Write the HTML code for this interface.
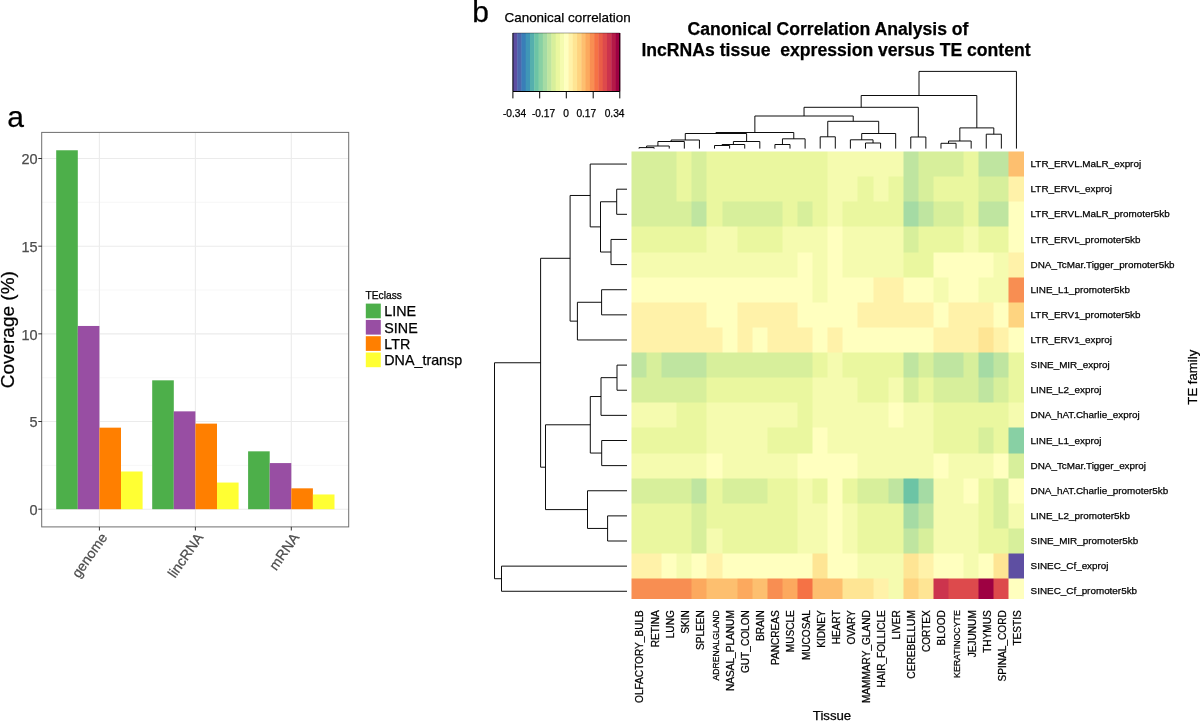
<!DOCTYPE html><html><head><meta charset="utf-8"><style>html,body{margin:0;padding:0;background:#fff;}svg{display:block;will-change:transform;}text{font-family:"Liberation Sans",sans-serif;stroke-width:0.25px;}</style></head><body>
<svg width="1200" height="721" viewBox="0 0 1200 721">
<rect width="1200" height="721" fill="#fff"/>
<line x1="42.0" x2="348.7" y1="465.36" y2="465.36" stroke="#F2F2F2" stroke-width="0.6"/>
<line x1="42.0" x2="348.7" y1="377.69" y2="377.69" stroke="#F2F2F2" stroke-width="0.6"/>
<line x1="42.0" x2="348.7" y1="290.01" y2="290.01" stroke="#F2F2F2" stroke-width="0.6"/>
<line x1="42.0" x2="348.7" y1="202.34" y2="202.34" stroke="#F2F2F2" stroke-width="0.6"/>
<line x1="42.0" x2="348.7" y1="509.20" y2="509.20" stroke="#EBEBEB" stroke-width="1.1"/>
<line x1="42.0" x2="348.7" y1="421.52" y2="421.52" stroke="#EBEBEB" stroke-width="1.1"/>
<line x1="42.0" x2="348.7" y1="333.85" y2="333.85" stroke="#EBEBEB" stroke-width="1.1"/>
<line x1="42.0" x2="348.7" y1="246.18" y2="246.18" stroke="#EBEBEB" stroke-width="1.1"/>
<line x1="42.0" x2="348.7" y1="158.50" y2="158.50" stroke="#EBEBEB" stroke-width="1.1"/>
<line x1="99.4" x2="99.4" y1="132.5" y2="526.9" stroke="#EBEBEB" stroke-width="1.1"/>
<line x1="195.4" x2="195.4" y1="132.5" y2="526.9" stroke="#EBEBEB" stroke-width="1.1"/>
<line x1="291.3" x2="291.3" y1="132.5" y2="526.9" stroke="#EBEBEB" stroke-width="1.1"/>
<rect x="56.20" y="150.26" width="21.6" height="358.94" fill="#4DAF4A"/>
<rect x="77.80" y="325.96" width="21.6" height="183.24" fill="#984EA3"/>
<rect x="99.40" y="427.66" width="21.6" height="81.54" fill="#FF7F00"/>
<rect x="121.00" y="471.50" width="21.6" height="37.70" fill="#FFFF33"/>
<rect x="152.20" y="380.32" width="21.6" height="128.88" fill="#4DAF4A"/>
<rect x="173.80" y="411.35" width="21.6" height="97.85" fill="#984EA3"/>
<rect x="195.40" y="423.63" width="21.6" height="85.57" fill="#FF7F00"/>
<rect x="217.00" y="482.55" width="21.6" height="26.65" fill="#FFFF33"/>
<rect x="248.10" y="451.33" width="21.6" height="57.87" fill="#4DAF4A"/>
<rect x="269.70" y="463.08" width="21.6" height="46.12" fill="#984EA3"/>
<rect x="291.30" y="488.33" width="21.6" height="20.87" fill="#FF7F00"/>
<rect x="312.90" y="494.47" width="21.6" height="14.73" fill="#FFFF33"/>
<rect x="41.7" y="132.4" width="307" height="394.5" fill="none" stroke="#6E6E6E" stroke-width="1"/>
<line x1="38.3" x2="42.0" y1="509.20" y2="509.20" stroke="#333" stroke-width="1"/>
<text x="37.7" y="514.90" font-size="14.5" fill="#4D4D4D" stroke="#4D4D4D" text-anchor="end">0</text>
<line x1="38.3" x2="42.0" y1="421.52" y2="421.52" stroke="#333" stroke-width="1"/>
<text x="37.7" y="427.22" font-size="14.5" fill="#4D4D4D" stroke="#4D4D4D" text-anchor="end">5</text>
<line x1="38.3" x2="42.0" y1="333.85" y2="333.85" stroke="#333" stroke-width="1"/>
<text x="37.7" y="339.55" font-size="14.5" fill="#4D4D4D" stroke="#4D4D4D" text-anchor="end">10</text>
<line x1="38.3" x2="42.0" y1="246.18" y2="246.18" stroke="#333" stroke-width="1"/>
<text x="37.7" y="251.88" font-size="14.5" fill="#4D4D4D" stroke="#4D4D4D" text-anchor="end">15</text>
<line x1="38.3" x2="42.0" y1="158.50" y2="158.50" stroke="#333" stroke-width="1"/>
<text x="37.7" y="164.20" font-size="14.5" fill="#4D4D4D" stroke="#4D4D4D" text-anchor="end">20</text>
<line x1="99.4" x2="99.4" y1="526.9" y2="530.5" stroke="#333" stroke-width="1"/>
<line x1="195.4" x2="195.4" y1="526.9" y2="530.5" stroke="#333" stroke-width="1"/>
<line x1="291.3" x2="291.3" y1="526.9" y2="530.5" stroke="#333" stroke-width="1"/>
<text transform="translate(99.4,531.4) rotate(-55)" font-size="14" fill="#4D4D4D" stroke="#4D4D4D" text-anchor="end" dominant-baseline="hanging">genome</text>
<text transform="translate(195.4,531.4) rotate(-55)" font-size="14" fill="#4D4D4D" stroke="#4D4D4D" text-anchor="end" dominant-baseline="hanging">lincRNA</text>
<text transform="translate(291.3,531.4) rotate(-55)" font-size="14" fill="#4D4D4D" stroke="#4D4D4D" text-anchor="end" dominant-baseline="hanging">mRNA</text>
<text transform="translate(14.4,329.7) rotate(-90)" font-size="19" fill="#000" stroke="#000" text-anchor="middle">Coverage (%)</text>
<text x="7.2" y="127.3" font-size="30" fill="#000" stroke="#000">a</text>
<text x="365.6" y="298.8" font-size="10.2" fill="#000" stroke="#000">TEclass</text>
<rect x="365.8" y="303.60" width="15" height="14.7" fill="#4DAF4A"/>
<text x="384.3" y="316.30" font-size="14.3" fill="#000" stroke="#000">LINE</text>
<rect x="365.8" y="319.90" width="15" height="14.7" fill="#984EA3"/>
<text x="384.3" y="332.60" font-size="14.3" fill="#000" stroke="#000">SINE</text>
<rect x="365.8" y="336.20" width="15" height="14.7" fill="#FF7F00"/>
<text x="384.3" y="348.90" font-size="14.3" fill="#000" stroke="#000">LTR</text>
<rect x="365.8" y="352.50" width="15" height="14.7" fill="#FFFF33"/>
<text x="384.3" y="365.20" font-size="14.3" fill="#000" stroke="#000">DNA_transp</text>
<text x="472.3" y="21.9" font-size="30" fill="#000" stroke="#000">b</text>
<rect x="512.90" y="33.0" width="4.68" height="58.5" fill="#5E4FA2"/>
<rect x="517.18" y="33.0" width="4.68" height="58.5" fill="#4C67AD"/>
<rect x="521.45" y="33.0" width="4.68" height="58.5" fill="#397EB8"/>
<rect x="525.73" y="33.0" width="4.68" height="58.5" fill="#3F96B7"/>
<rect x="530.00" y="33.0" width="4.68" height="58.5" fill="#55AFAD"/>
<rect x="534.28" y="33.0" width="4.68" height="58.5" fill="#6CC4A5"/>
<rect x="538.56" y="33.0" width="4.68" height="58.5" fill="#88D0A4"/>
<rect x="542.83" y="33.0" width="4.68" height="58.5" fill="#A5DBA4"/>
<rect x="547.11" y="33.0" width="4.68" height="58.5" fill="#BFE5A0"/>
<rect x="551.38" y="33.0" width="4.68" height="58.5" fill="#D7EF9B"/>
<rect x="555.66" y="33.0" width="4.68" height="58.5" fill="#EAF79F"/>
<rect x="559.94" y="33.0" width="4.68" height="58.5" fill="#F5FBAF"/>
<rect x="564.21" y="33.0" width="4.68" height="58.5" fill="#FFFFBF"/>
<rect x="568.49" y="33.0" width="4.68" height="58.5" fill="#FFF2A9"/>
<rect x="572.76" y="33.0" width="4.68" height="58.5" fill="#FEE594"/>
<rect x="577.04" y="33.0" width="4.68" height="58.5" fill="#FED480"/>
<rect x="581.32" y="33.0" width="4.68" height="58.5" fill="#FDBF6F"/>
<rect x="585.59" y="33.0" width="4.68" height="58.5" fill="#FCA95E"/>
<rect x="589.87" y="33.0" width="4.68" height="58.5" fill="#F88E52"/>
<rect x="594.14" y="33.0" width="4.68" height="58.5" fill="#F57245"/>
<rect x="598.42" y="33.0" width="4.68" height="58.5" fill="#EA5D47"/>
<rect x="602.70" y="33.0" width="4.68" height="58.5" fill="#DD4A4C"/>
<rect x="606.97" y="33.0" width="4.68" height="58.5" fill="#CC344D"/>
<rect x="611.25" y="33.0" width="4.68" height="58.5" fill="#B51A47"/>
<rect x="615.52" y="33.0" width="4.68" height="58.5" fill="#9E0142"/>
<path d="M512.9,33.0V91.5H619.8V33.0" fill="none" stroke="#000" stroke-width="1"/>
<line x1="512.9" x2="619.8" y1="33.0" y2="33.0" stroke="#000" stroke-opacity="0.35" stroke-width="1"/>
<line x1="512.9" x2="512.9" y1="91.5" y2="98.4" stroke="#000" stroke-width="1"/>
<text x="514.6" y="116.6" font-size="10.2" fill="#000" stroke="#000" text-anchor="middle">-0.34</text>
<line x1="539.7" x2="539.7" y1="91.5" y2="98.4" stroke="#000" stroke-width="1"/>
<text x="543.5" y="116.6" font-size="10.2" fill="#000" stroke="#000" text-anchor="middle">-0.17</text>
<line x1="566.3" x2="566.3" y1="91.5" y2="98.4" stroke="#000" stroke-width="1"/>
<text x="566.0" y="116.6" font-size="10.2" fill="#000" stroke="#000" text-anchor="middle">0</text>
<line x1="593.2" x2="593.2" y1="91.5" y2="98.4" stroke="#000" stroke-width="1"/>
<text x="586.3" y="116.6" font-size="10.2" fill="#000" stroke="#000" text-anchor="middle">0.17</text>
<line x1="619.8" x2="619.8" y1="91.5" y2="98.4" stroke="#000" stroke-width="1"/>
<text x="614.6" y="116.6" font-size="10.2" fill="#000" stroke="#000" text-anchor="middle">0.34</text>
<text x="504.5" y="22.1" font-size="13.45" fill="#000" stroke="#000">Canonical correlation</text>
<text x="828" y="35.0" font-size="17.6" font-weight="bold" fill="#000" stroke="#000" text-anchor="middle">Canonical Correlation Analysis of</text>
<text x="836" y="56.1" font-size="17.6" font-weight="bold" fill="#000" stroke="#000" text-anchor="middle" xml:space="preserve">lncRNAs tissue  expression versus TE content</text>
<svg x="631.5" y="151.5" width="392.50" height="447.10" viewBox="0 0 392.50 447.10" overflow="hidden" shape-rendering="crispEdges">
<rect x="0.00" y="0.00" width="15.40" height="25.43" fill="#D7EF9B"/>
<rect x="15.10" y="0.00" width="15.40" height="25.43" fill="#D7EF9B"/>
<rect x="30.19" y="0.00" width="15.40" height="25.43" fill="#D7EF9B"/>
<rect x="45.29" y="0.00" width="15.40" height="25.43" fill="#EAF79F"/>
<rect x="60.38" y="0.00" width="15.40" height="25.43" fill="#D7EF9B"/>
<rect x="75.48" y="0.00" width="15.40" height="25.43" fill="#EAF79F"/>
<rect x="90.58" y="0.00" width="15.40" height="25.43" fill="#EAF79F"/>
<rect x="105.67" y="0.00" width="15.40" height="25.43" fill="#EAF79F"/>
<rect x="120.77" y="0.00" width="15.40" height="25.43" fill="#EAF79F"/>
<rect x="135.86" y="0.00" width="15.40" height="25.43" fill="#EAF79F"/>
<rect x="150.96" y="0.00" width="15.40" height="25.43" fill="#EAF79F"/>
<rect x="166.06" y="0.00" width="15.40" height="25.43" fill="#EAF79F"/>
<rect x="181.15" y="0.00" width="15.40" height="25.43" fill="#EAF79F"/>
<rect x="196.25" y="0.00" width="15.40" height="25.43" fill="#F5FBAF"/>
<rect x="211.34" y="0.00" width="15.40" height="25.43" fill="#F5FBAF"/>
<rect x="226.44" y="0.00" width="15.40" height="25.43" fill="#F5FBAF"/>
<rect x="241.54" y="0.00" width="15.40" height="25.43" fill="#F5FBAF"/>
<rect x="256.63" y="0.00" width="15.40" height="25.43" fill="#F5FBAF"/>
<rect x="271.73" y="0.00" width="15.40" height="25.43" fill="#BFE5A0"/>
<rect x="286.82" y="0.00" width="15.40" height="25.43" fill="#D7EF9B"/>
<rect x="301.92" y="0.00" width="15.40" height="25.43" fill="#D7EF9B"/>
<rect x="317.02" y="0.00" width="15.40" height="25.43" fill="#D7EF9B"/>
<rect x="332.11" y="0.00" width="15.40" height="25.43" fill="#EAF79F"/>
<rect x="347.21" y="0.00" width="15.40" height="25.43" fill="#BFE5A0"/>
<rect x="362.30" y="0.00" width="15.40" height="25.43" fill="#BFE5A0"/>
<rect x="377.40" y="0.00" width="15.40" height="25.43" fill="#FDBF6F"/>
<rect x="0.00" y="25.13" width="15.40" height="25.43" fill="#D7EF9B"/>
<rect x="15.10" y="25.13" width="15.40" height="25.43" fill="#D7EF9B"/>
<rect x="30.19" y="25.13" width="15.40" height="25.43" fill="#D7EF9B"/>
<rect x="45.29" y="25.13" width="15.40" height="25.43" fill="#EAF79F"/>
<rect x="60.38" y="25.13" width="15.40" height="25.43" fill="#D7EF9B"/>
<rect x="75.48" y="25.13" width="15.40" height="25.43" fill="#EAF79F"/>
<rect x="90.58" y="25.13" width="15.40" height="25.43" fill="#EAF79F"/>
<rect x="105.67" y="25.13" width="15.40" height="25.43" fill="#EAF79F"/>
<rect x="120.77" y="25.13" width="15.40" height="25.43" fill="#EAF79F"/>
<rect x="135.86" y="25.13" width="15.40" height="25.43" fill="#EAF79F"/>
<rect x="150.96" y="25.13" width="15.40" height="25.43" fill="#EAF79F"/>
<rect x="166.06" y="25.13" width="15.40" height="25.43" fill="#EAF79F"/>
<rect x="181.15" y="25.13" width="15.40" height="25.43" fill="#EAF79F"/>
<rect x="196.25" y="25.13" width="15.40" height="25.43" fill="#F5FBAF"/>
<rect x="211.34" y="25.13" width="15.40" height="25.43" fill="#F5FBAF"/>
<rect x="226.44" y="25.13" width="15.40" height="25.43" fill="#EAF79F"/>
<rect x="241.54" y="25.13" width="15.40" height="25.43" fill="#F5FBAF"/>
<rect x="256.63" y="25.13" width="15.40" height="25.43" fill="#EAF79F"/>
<rect x="271.73" y="25.13" width="15.40" height="25.43" fill="#BFE5A0"/>
<rect x="286.82" y="25.13" width="15.40" height="25.43" fill="#D7EF9B"/>
<rect x="301.92" y="25.13" width="15.40" height="25.43" fill="#EAF79F"/>
<rect x="317.02" y="25.13" width="15.40" height="25.43" fill="#EAF79F"/>
<rect x="332.11" y="25.13" width="15.40" height="25.43" fill="#EAF79F"/>
<rect x="347.21" y="25.13" width="15.40" height="25.43" fill="#D7EF9B"/>
<rect x="362.30" y="25.13" width="15.40" height="25.43" fill="#D7EF9B"/>
<rect x="377.40" y="25.13" width="15.40" height="25.43" fill="#FFF2A9"/>
<rect x="0.00" y="50.26" width="15.40" height="25.43" fill="#D7EF9B"/>
<rect x="15.10" y="50.26" width="15.40" height="25.43" fill="#D7EF9B"/>
<rect x="30.19" y="50.26" width="15.40" height="25.43" fill="#D7EF9B"/>
<rect x="45.29" y="50.26" width="15.40" height="25.43" fill="#D7EF9B"/>
<rect x="60.38" y="50.26" width="15.40" height="25.43" fill="#BFE5A0"/>
<rect x="75.48" y="50.26" width="15.40" height="25.43" fill="#EAF79F"/>
<rect x="90.58" y="50.26" width="15.40" height="25.43" fill="#D7EF9B"/>
<rect x="105.67" y="50.26" width="15.40" height="25.43" fill="#D7EF9B"/>
<rect x="120.77" y="50.26" width="15.40" height="25.43" fill="#D7EF9B"/>
<rect x="135.86" y="50.26" width="15.40" height="25.43" fill="#D7EF9B"/>
<rect x="150.96" y="50.26" width="15.40" height="25.43" fill="#EAF79F"/>
<rect x="166.06" y="50.26" width="15.40" height="25.43" fill="#D7EF9B"/>
<rect x="181.15" y="50.26" width="15.40" height="25.43" fill="#EAF79F"/>
<rect x="196.25" y="50.26" width="15.40" height="25.43" fill="#F5FBAF"/>
<rect x="211.34" y="50.26" width="15.40" height="25.43" fill="#EAF79F"/>
<rect x="226.44" y="50.26" width="15.40" height="25.43" fill="#EAF79F"/>
<rect x="241.54" y="50.26" width="15.40" height="25.43" fill="#EAF79F"/>
<rect x="256.63" y="50.26" width="15.40" height="25.43" fill="#EAF79F"/>
<rect x="271.73" y="50.26" width="15.40" height="25.43" fill="#A5DBA4"/>
<rect x="286.82" y="50.26" width="15.40" height="25.43" fill="#BFE5A0"/>
<rect x="301.92" y="50.26" width="15.40" height="25.43" fill="#D7EF9B"/>
<rect x="317.02" y="50.26" width="15.40" height="25.43" fill="#D7EF9B"/>
<rect x="332.11" y="50.26" width="15.40" height="25.43" fill="#EAF79F"/>
<rect x="347.21" y="50.26" width="15.40" height="25.43" fill="#BFE5A0"/>
<rect x="362.30" y="50.26" width="15.40" height="25.43" fill="#BFE5A0"/>
<rect x="377.40" y="50.26" width="15.40" height="25.43" fill="#FFFFBF"/>
<rect x="0.00" y="75.39" width="15.40" height="25.43" fill="#EAF79F"/>
<rect x="15.10" y="75.39" width="15.40" height="25.43" fill="#EAF79F"/>
<rect x="30.19" y="75.39" width="15.40" height="25.43" fill="#EAF79F"/>
<rect x="45.29" y="75.39" width="15.40" height="25.43" fill="#EAF79F"/>
<rect x="60.38" y="75.39" width="15.40" height="25.43" fill="#EAF79F"/>
<rect x="75.48" y="75.39" width="15.40" height="25.43" fill="#F5FBAF"/>
<rect x="90.58" y="75.39" width="15.40" height="25.43" fill="#F5FBAF"/>
<rect x="105.67" y="75.39" width="15.40" height="25.43" fill="#EAF79F"/>
<rect x="120.77" y="75.39" width="15.40" height="25.43" fill="#EAF79F"/>
<rect x="135.86" y="75.39" width="15.40" height="25.43" fill="#EAF79F"/>
<rect x="150.96" y="75.39" width="15.40" height="25.43" fill="#F5FBAF"/>
<rect x="166.06" y="75.39" width="15.40" height="25.43" fill="#F5FBAF"/>
<rect x="181.15" y="75.39" width="15.40" height="25.43" fill="#F5FBAF"/>
<rect x="196.25" y="75.39" width="15.40" height="25.43" fill="#FFFFBF"/>
<rect x="211.34" y="75.39" width="15.40" height="25.43" fill="#F5FBAF"/>
<rect x="226.44" y="75.39" width="15.40" height="25.43" fill="#F5FBAF"/>
<rect x="241.54" y="75.39" width="15.40" height="25.43" fill="#F5FBAF"/>
<rect x="256.63" y="75.39" width="15.40" height="25.43" fill="#F5FBAF"/>
<rect x="271.73" y="75.39" width="15.40" height="25.43" fill="#D7EF9B"/>
<rect x="286.82" y="75.39" width="15.40" height="25.43" fill="#EAF79F"/>
<rect x="301.92" y="75.39" width="15.40" height="25.43" fill="#EAF79F"/>
<rect x="317.02" y="75.39" width="15.40" height="25.43" fill="#EAF79F"/>
<rect x="332.11" y="75.39" width="15.40" height="25.43" fill="#F5FBAF"/>
<rect x="347.21" y="75.39" width="15.40" height="25.43" fill="#EAF79F"/>
<rect x="362.30" y="75.39" width="15.40" height="25.43" fill="#EAF79F"/>
<rect x="377.40" y="75.39" width="15.40" height="25.43" fill="#FFFFBF"/>
<rect x="0.00" y="100.52" width="15.40" height="25.43" fill="#F5FBAF"/>
<rect x="15.10" y="100.52" width="15.40" height="25.43" fill="#F5FBAF"/>
<rect x="30.19" y="100.52" width="15.40" height="25.43" fill="#F5FBAF"/>
<rect x="45.29" y="100.52" width="15.40" height="25.43" fill="#F5FBAF"/>
<rect x="60.38" y="100.52" width="15.40" height="25.43" fill="#F5FBAF"/>
<rect x="75.48" y="100.52" width="15.40" height="25.43" fill="#F5FBAF"/>
<rect x="90.58" y="100.52" width="15.40" height="25.43" fill="#F5FBAF"/>
<rect x="105.67" y="100.52" width="15.40" height="25.43" fill="#F5FBAF"/>
<rect x="120.77" y="100.52" width="15.40" height="25.43" fill="#F5FBAF"/>
<rect x="135.86" y="100.52" width="15.40" height="25.43" fill="#F5FBAF"/>
<rect x="150.96" y="100.52" width="15.40" height="25.43" fill="#F5FBAF"/>
<rect x="166.06" y="100.52" width="15.40" height="25.43" fill="#FFFFBF"/>
<rect x="181.15" y="100.52" width="15.40" height="25.43" fill="#F5FBAF"/>
<rect x="196.25" y="100.52" width="15.40" height="25.43" fill="#FFFFBF"/>
<rect x="211.34" y="100.52" width="15.40" height="25.43" fill="#F5FBAF"/>
<rect x="226.44" y="100.52" width="15.40" height="25.43" fill="#F5FBAF"/>
<rect x="241.54" y="100.52" width="15.40" height="25.43" fill="#F5FBAF"/>
<rect x="256.63" y="100.52" width="15.40" height="25.43" fill="#F5FBAF"/>
<rect x="271.73" y="100.52" width="15.40" height="25.43" fill="#EAF79F"/>
<rect x="286.82" y="100.52" width="15.40" height="25.43" fill="#EAF79F"/>
<rect x="301.92" y="100.52" width="15.40" height="25.43" fill="#FFFFBF"/>
<rect x="317.02" y="100.52" width="15.40" height="25.43" fill="#FFFFBF"/>
<rect x="332.11" y="100.52" width="15.40" height="25.43" fill="#FFFFBF"/>
<rect x="347.21" y="100.52" width="15.40" height="25.43" fill="#FFFFBF"/>
<rect x="362.30" y="100.52" width="15.40" height="25.43" fill="#F5FBAF"/>
<rect x="377.40" y="100.52" width="15.40" height="25.43" fill="#FFF2A9"/>
<rect x="0.00" y="125.65" width="15.40" height="25.43" fill="#FFFFBF"/>
<rect x="15.10" y="125.65" width="15.40" height="25.43" fill="#FFFFBF"/>
<rect x="30.19" y="125.65" width="15.40" height="25.43" fill="#FFFFBF"/>
<rect x="45.29" y="125.65" width="15.40" height="25.43" fill="#FFFFBF"/>
<rect x="60.38" y="125.65" width="15.40" height="25.43" fill="#FFFFBF"/>
<rect x="75.48" y="125.65" width="15.40" height="25.43" fill="#FFFFBF"/>
<rect x="90.58" y="125.65" width="15.40" height="25.43" fill="#FFFFBF"/>
<rect x="105.67" y="125.65" width="15.40" height="25.43" fill="#FFFFBF"/>
<rect x="120.77" y="125.65" width="15.40" height="25.43" fill="#FFFFBF"/>
<rect x="135.86" y="125.65" width="15.40" height="25.43" fill="#FFFFBF"/>
<rect x="150.96" y="125.65" width="15.40" height="25.43" fill="#FFFFBF"/>
<rect x="166.06" y="125.65" width="15.40" height="25.43" fill="#FFFFBF"/>
<rect x="181.15" y="125.65" width="15.40" height="25.43" fill="#F5FBAF"/>
<rect x="196.25" y="125.65" width="15.40" height="25.43" fill="#FFFFBF"/>
<rect x="211.34" y="125.65" width="15.40" height="25.43" fill="#FFFFBF"/>
<rect x="226.44" y="125.65" width="15.40" height="25.43" fill="#FFFFBF"/>
<rect x="241.54" y="125.65" width="15.40" height="25.43" fill="#FFF2A9"/>
<rect x="256.63" y="125.65" width="15.40" height="25.43" fill="#FFF2A9"/>
<rect x="271.73" y="125.65" width="15.40" height="25.43" fill="#FFFFBF"/>
<rect x="286.82" y="125.65" width="15.40" height="25.43" fill="#FFFFBF"/>
<rect x="301.92" y="125.65" width="15.40" height="25.43" fill="#F5FBAF"/>
<rect x="317.02" y="125.65" width="15.40" height="25.43" fill="#FFFFBF"/>
<rect x="332.11" y="125.65" width="15.40" height="25.43" fill="#FFFFBF"/>
<rect x="347.21" y="125.65" width="15.40" height="25.43" fill="#F5FBAF"/>
<rect x="362.30" y="125.65" width="15.40" height="25.43" fill="#F5FBAF"/>
<rect x="377.40" y="125.65" width="15.40" height="25.43" fill="#F88E52"/>
<rect x="0.00" y="150.78" width="15.40" height="25.43" fill="#FFF2A9"/>
<rect x="15.10" y="150.78" width="15.40" height="25.43" fill="#FFF2A9"/>
<rect x="30.19" y="150.78" width="15.40" height="25.43" fill="#FFF2A9"/>
<rect x="45.29" y="150.78" width="15.40" height="25.43" fill="#FFF2A9"/>
<rect x="60.38" y="150.78" width="15.40" height="25.43" fill="#FFF2A9"/>
<rect x="75.48" y="150.78" width="15.40" height="25.43" fill="#FFFFBF"/>
<rect x="90.58" y="150.78" width="15.40" height="25.43" fill="#FFFFBF"/>
<rect x="105.67" y="150.78" width="15.40" height="25.43" fill="#FFF2A9"/>
<rect x="120.77" y="150.78" width="15.40" height="25.43" fill="#FFF2A9"/>
<rect x="135.86" y="150.78" width="15.40" height="25.43" fill="#FFF2A9"/>
<rect x="150.96" y="150.78" width="15.40" height="25.43" fill="#FFF2A9"/>
<rect x="166.06" y="150.78" width="15.40" height="25.43" fill="#FFFFBF"/>
<rect x="181.15" y="150.78" width="15.40" height="25.43" fill="#FFFFBF"/>
<rect x="196.25" y="150.78" width="15.40" height="25.43" fill="#FFFFBF"/>
<rect x="211.34" y="150.78" width="15.40" height="25.43" fill="#FFFFBF"/>
<rect x="226.44" y="150.78" width="15.40" height="25.43" fill="#FFF2A9"/>
<rect x="241.54" y="150.78" width="15.40" height="25.43" fill="#FFF2A9"/>
<rect x="256.63" y="150.78" width="15.40" height="25.43" fill="#FFF2A9"/>
<rect x="271.73" y="150.78" width="15.40" height="25.43" fill="#FFF2A9"/>
<rect x="286.82" y="150.78" width="15.40" height="25.43" fill="#FFF2A9"/>
<rect x="301.92" y="150.78" width="15.40" height="25.43" fill="#FFFFBF"/>
<rect x="317.02" y="150.78" width="15.40" height="25.43" fill="#FFF2A9"/>
<rect x="332.11" y="150.78" width="15.40" height="25.43" fill="#FFF2A9"/>
<rect x="347.21" y="150.78" width="15.40" height="25.43" fill="#FFF2A9"/>
<rect x="362.30" y="150.78" width="15.40" height="25.43" fill="#FFFFBF"/>
<rect x="377.40" y="150.78" width="15.40" height="25.43" fill="#FED480"/>
<rect x="0.00" y="175.91" width="15.40" height="25.43" fill="#FFF2A9"/>
<rect x="15.10" y="175.91" width="15.40" height="25.43" fill="#FFF2A9"/>
<rect x="30.19" y="175.91" width="15.40" height="25.43" fill="#FFF2A9"/>
<rect x="45.29" y="175.91" width="15.40" height="25.43" fill="#FFF2A9"/>
<rect x="60.38" y="175.91" width="15.40" height="25.43" fill="#FFF2A9"/>
<rect x="75.48" y="175.91" width="15.40" height="25.43" fill="#FFF2A9"/>
<rect x="90.58" y="175.91" width="15.40" height="25.43" fill="#FFFFBF"/>
<rect x="105.67" y="175.91" width="15.40" height="25.43" fill="#FFF2A9"/>
<rect x="120.77" y="175.91" width="15.40" height="25.43" fill="#FFFFBF"/>
<rect x="135.86" y="175.91" width="15.40" height="25.43" fill="#FFF2A9"/>
<rect x="150.96" y="175.91" width="15.40" height="25.43" fill="#FFF2A9"/>
<rect x="166.06" y="175.91" width="15.40" height="25.43" fill="#FFF2A9"/>
<rect x="181.15" y="175.91" width="15.40" height="25.43" fill="#FFFFBF"/>
<rect x="196.25" y="175.91" width="15.40" height="25.43" fill="#FFF2A9"/>
<rect x="211.34" y="175.91" width="15.40" height="25.43" fill="#FFFFBF"/>
<rect x="226.44" y="175.91" width="15.40" height="25.43" fill="#FFFFBF"/>
<rect x="241.54" y="175.91" width="15.40" height="25.43" fill="#FFFFBF"/>
<rect x="256.63" y="175.91" width="15.40" height="25.43" fill="#FFFFBF"/>
<rect x="271.73" y="175.91" width="15.40" height="25.43" fill="#FFFFBF"/>
<rect x="286.82" y="175.91" width="15.40" height="25.43" fill="#FFFFBF"/>
<rect x="301.92" y="175.91" width="15.40" height="25.43" fill="#FFF2A9"/>
<rect x="317.02" y="175.91" width="15.40" height="25.43" fill="#FFF2A9"/>
<rect x="332.11" y="175.91" width="15.40" height="25.43" fill="#FFF2A9"/>
<rect x="347.21" y="175.91" width="15.40" height="25.43" fill="#FEE594"/>
<rect x="362.30" y="175.91" width="15.40" height="25.43" fill="#FFF2A9"/>
<rect x="377.40" y="175.91" width="15.40" height="25.43" fill="#FFFFBF"/>
<rect x="0.00" y="201.04" width="15.40" height="25.43" fill="#BFE5A0"/>
<rect x="15.10" y="201.04" width="15.40" height="25.43" fill="#D7EF9B"/>
<rect x="30.19" y="201.04" width="15.40" height="25.43" fill="#BFE5A0"/>
<rect x="45.29" y="201.04" width="15.40" height="25.43" fill="#BFE5A0"/>
<rect x="60.38" y="201.04" width="15.40" height="25.43" fill="#BFE5A0"/>
<rect x="75.48" y="201.04" width="15.40" height="25.43" fill="#D7EF9B"/>
<rect x="90.58" y="201.04" width="15.40" height="25.43" fill="#D7EF9B"/>
<rect x="105.67" y="201.04" width="15.40" height="25.43" fill="#D7EF9B"/>
<rect x="120.77" y="201.04" width="15.40" height="25.43" fill="#D7EF9B"/>
<rect x="135.86" y="201.04" width="15.40" height="25.43" fill="#D7EF9B"/>
<rect x="150.96" y="201.04" width="15.40" height="25.43" fill="#D7EF9B"/>
<rect x="166.06" y="201.04" width="15.40" height="25.43" fill="#D7EF9B"/>
<rect x="181.15" y="201.04" width="15.40" height="25.43" fill="#EAF79F"/>
<rect x="196.25" y="201.04" width="15.40" height="25.43" fill="#F5FBAF"/>
<rect x="211.34" y="201.04" width="15.40" height="25.43" fill="#EAF79F"/>
<rect x="226.44" y="201.04" width="15.40" height="25.43" fill="#EAF79F"/>
<rect x="241.54" y="201.04" width="15.40" height="25.43" fill="#EAF79F"/>
<rect x="256.63" y="201.04" width="15.40" height="25.43" fill="#EAF79F"/>
<rect x="271.73" y="201.04" width="15.40" height="25.43" fill="#BFE5A0"/>
<rect x="286.82" y="201.04" width="15.40" height="25.43" fill="#D7EF9B"/>
<rect x="301.92" y="201.04" width="15.40" height="25.43" fill="#BFE5A0"/>
<rect x="317.02" y="201.04" width="15.40" height="25.43" fill="#BFE5A0"/>
<rect x="332.11" y="201.04" width="15.40" height="25.43" fill="#D7EF9B"/>
<rect x="347.21" y="201.04" width="15.40" height="25.43" fill="#A5DBA4"/>
<rect x="362.30" y="201.04" width="15.40" height="25.43" fill="#BFE5A0"/>
<rect x="377.40" y="201.04" width="15.40" height="25.43" fill="#EAF79F"/>
<rect x="0.00" y="226.17" width="15.40" height="25.43" fill="#D7EF9B"/>
<rect x="15.10" y="226.17" width="15.40" height="25.43" fill="#D7EF9B"/>
<rect x="30.19" y="226.17" width="15.40" height="25.43" fill="#D7EF9B"/>
<rect x="45.29" y="226.17" width="15.40" height="25.43" fill="#D7EF9B"/>
<rect x="60.38" y="226.17" width="15.40" height="25.43" fill="#D7EF9B"/>
<rect x="75.48" y="226.17" width="15.40" height="25.43" fill="#EAF79F"/>
<rect x="90.58" y="226.17" width="15.40" height="25.43" fill="#EAF79F"/>
<rect x="105.67" y="226.17" width="15.40" height="25.43" fill="#EAF79F"/>
<rect x="120.77" y="226.17" width="15.40" height="25.43" fill="#EAF79F"/>
<rect x="135.86" y="226.17" width="15.40" height="25.43" fill="#EAF79F"/>
<rect x="150.96" y="226.17" width="15.40" height="25.43" fill="#EAF79F"/>
<rect x="166.06" y="226.17" width="15.40" height="25.43" fill="#EAF79F"/>
<rect x="181.15" y="226.17" width="15.40" height="25.43" fill="#F5FBAF"/>
<rect x="196.25" y="226.17" width="15.40" height="25.43" fill="#F5FBAF"/>
<rect x="211.34" y="226.17" width="15.40" height="25.43" fill="#F5FBAF"/>
<rect x="226.44" y="226.17" width="15.40" height="25.43" fill="#EAF79F"/>
<rect x="241.54" y="226.17" width="15.40" height="25.43" fill="#EAF79F"/>
<rect x="256.63" y="226.17" width="15.40" height="25.43" fill="#F5FBAF"/>
<rect x="271.73" y="226.17" width="15.40" height="25.43" fill="#D7EF9B"/>
<rect x="286.82" y="226.17" width="15.40" height="25.43" fill="#EAF79F"/>
<rect x="301.92" y="226.17" width="15.40" height="25.43" fill="#D7EF9B"/>
<rect x="317.02" y="226.17" width="15.40" height="25.43" fill="#D7EF9B"/>
<rect x="332.11" y="226.17" width="15.40" height="25.43" fill="#D7EF9B"/>
<rect x="347.21" y="226.17" width="15.40" height="25.43" fill="#BFE5A0"/>
<rect x="362.30" y="226.17" width="15.40" height="25.43" fill="#D7EF9B"/>
<rect x="377.40" y="226.17" width="15.40" height="25.43" fill="#EAF79F"/>
<rect x="0.00" y="251.30" width="15.40" height="25.43" fill="#F5FBAF"/>
<rect x="15.10" y="251.30" width="15.40" height="25.43" fill="#F5FBAF"/>
<rect x="30.19" y="251.30" width="15.40" height="25.43" fill="#F5FBAF"/>
<rect x="45.29" y="251.30" width="15.40" height="25.43" fill="#EAF79F"/>
<rect x="60.38" y="251.30" width="15.40" height="25.43" fill="#EAF79F"/>
<rect x="75.48" y="251.30" width="15.40" height="25.43" fill="#F5FBAF"/>
<rect x="90.58" y="251.30" width="15.40" height="25.43" fill="#F5FBAF"/>
<rect x="105.67" y="251.30" width="15.40" height="25.43" fill="#F5FBAF"/>
<rect x="120.77" y="251.30" width="15.40" height="25.43" fill="#F5FBAF"/>
<rect x="135.86" y="251.30" width="15.40" height="25.43" fill="#F5FBAF"/>
<rect x="150.96" y="251.30" width="15.40" height="25.43" fill="#F5FBAF"/>
<rect x="166.06" y="251.30" width="15.40" height="25.43" fill="#EAF79F"/>
<rect x="181.15" y="251.30" width="15.40" height="25.43" fill="#F5FBAF"/>
<rect x="196.25" y="251.30" width="15.40" height="25.43" fill="#F5FBAF"/>
<rect x="211.34" y="251.30" width="15.40" height="25.43" fill="#F5FBAF"/>
<rect x="226.44" y="251.30" width="15.40" height="25.43" fill="#F5FBAF"/>
<rect x="241.54" y="251.30" width="15.40" height="25.43" fill="#F5FBAF"/>
<rect x="256.63" y="251.30" width="15.40" height="25.43" fill="#FFFFBF"/>
<rect x="271.73" y="251.30" width="15.40" height="25.43" fill="#F5FBAF"/>
<rect x="286.82" y="251.30" width="15.40" height="25.43" fill="#F5FBAF"/>
<rect x="301.92" y="251.30" width="15.40" height="25.43" fill="#EAF79F"/>
<rect x="317.02" y="251.30" width="15.40" height="25.43" fill="#EAF79F"/>
<rect x="332.11" y="251.30" width="15.40" height="25.43" fill="#EAF79F"/>
<rect x="347.21" y="251.30" width="15.40" height="25.43" fill="#EAF79F"/>
<rect x="362.30" y="251.30" width="15.40" height="25.43" fill="#EAF79F"/>
<rect x="377.40" y="251.30" width="15.40" height="25.43" fill="#F5FBAF"/>
<rect x="0.00" y="276.43" width="15.40" height="25.43" fill="#EAF79F"/>
<rect x="15.10" y="276.43" width="15.40" height="25.43" fill="#EAF79F"/>
<rect x="30.19" y="276.43" width="15.40" height="25.43" fill="#EAF79F"/>
<rect x="45.29" y="276.43" width="15.40" height="25.43" fill="#EAF79F"/>
<rect x="60.38" y="276.43" width="15.40" height="25.43" fill="#EAF79F"/>
<rect x="75.48" y="276.43" width="15.40" height="25.43" fill="#F5FBAF"/>
<rect x="90.58" y="276.43" width="15.40" height="25.43" fill="#F5FBAF"/>
<rect x="105.67" y="276.43" width="15.40" height="25.43" fill="#F5FBAF"/>
<rect x="120.77" y="276.43" width="15.40" height="25.43" fill="#F5FBAF"/>
<rect x="135.86" y="276.43" width="15.40" height="25.43" fill="#EAF79F"/>
<rect x="150.96" y="276.43" width="15.40" height="25.43" fill="#EAF79F"/>
<rect x="166.06" y="276.43" width="15.40" height="25.43" fill="#EAF79F"/>
<rect x="181.15" y="276.43" width="15.40" height="25.43" fill="#FFFFBF"/>
<rect x="196.25" y="276.43" width="15.40" height="25.43" fill="#F5FBAF"/>
<rect x="211.34" y="276.43" width="15.40" height="25.43" fill="#F5FBAF"/>
<rect x="226.44" y="276.43" width="15.40" height="25.43" fill="#F5FBAF"/>
<rect x="241.54" y="276.43" width="15.40" height="25.43" fill="#F5FBAF"/>
<rect x="256.63" y="276.43" width="15.40" height="25.43" fill="#F5FBAF"/>
<rect x="271.73" y="276.43" width="15.40" height="25.43" fill="#F5FBAF"/>
<rect x="286.82" y="276.43" width="15.40" height="25.43" fill="#F5FBAF"/>
<rect x="301.92" y="276.43" width="15.40" height="25.43" fill="#EAF79F"/>
<rect x="317.02" y="276.43" width="15.40" height="25.43" fill="#EAF79F"/>
<rect x="332.11" y="276.43" width="15.40" height="25.43" fill="#EAF79F"/>
<rect x="347.21" y="276.43" width="15.40" height="25.43" fill="#D7EF9B"/>
<rect x="362.30" y="276.43" width="15.40" height="25.43" fill="#EAF79F"/>
<rect x="377.40" y="276.43" width="15.40" height="25.43" fill="#88D0A4"/>
<rect x="0.00" y="301.56" width="15.40" height="25.43" fill="#F5FBAF"/>
<rect x="15.10" y="301.56" width="15.40" height="25.43" fill="#F5FBAF"/>
<rect x="30.19" y="301.56" width="15.40" height="25.43" fill="#F5FBAF"/>
<rect x="45.29" y="301.56" width="15.40" height="25.43" fill="#F5FBAF"/>
<rect x="60.38" y="301.56" width="15.40" height="25.43" fill="#F5FBAF"/>
<rect x="75.48" y="301.56" width="15.40" height="25.43" fill="#FFFFBF"/>
<rect x="90.58" y="301.56" width="15.40" height="25.43" fill="#F5FBAF"/>
<rect x="105.67" y="301.56" width="15.40" height="25.43" fill="#F5FBAF"/>
<rect x="120.77" y="301.56" width="15.40" height="25.43" fill="#F5FBAF"/>
<rect x="135.86" y="301.56" width="15.40" height="25.43" fill="#F5FBAF"/>
<rect x="150.96" y="301.56" width="15.40" height="25.43" fill="#F5FBAF"/>
<rect x="166.06" y="301.56" width="15.40" height="25.43" fill="#FFFFBF"/>
<rect x="181.15" y="301.56" width="15.40" height="25.43" fill="#FFFFBF"/>
<rect x="196.25" y="301.56" width="15.40" height="25.43" fill="#FFFFBF"/>
<rect x="211.34" y="301.56" width="15.40" height="25.43" fill="#FFFFBF"/>
<rect x="226.44" y="301.56" width="15.40" height="25.43" fill="#F5FBAF"/>
<rect x="241.54" y="301.56" width="15.40" height="25.43" fill="#F5FBAF"/>
<rect x="256.63" y="301.56" width="15.40" height="25.43" fill="#F5FBAF"/>
<rect x="271.73" y="301.56" width="15.40" height="25.43" fill="#F5FBAF"/>
<rect x="286.82" y="301.56" width="15.40" height="25.43" fill="#F5FBAF"/>
<rect x="301.92" y="301.56" width="15.40" height="25.43" fill="#FFFFBF"/>
<rect x="317.02" y="301.56" width="15.40" height="25.43" fill="#F5FBAF"/>
<rect x="332.11" y="301.56" width="15.40" height="25.43" fill="#F5FBAF"/>
<rect x="347.21" y="301.56" width="15.40" height="25.43" fill="#F5FBAF"/>
<rect x="362.30" y="301.56" width="15.40" height="25.43" fill="#FFFFBF"/>
<rect x="377.40" y="301.56" width="15.40" height="25.43" fill="#D7EF9B"/>
<rect x="0.00" y="326.69" width="15.40" height="25.43" fill="#D7EF9B"/>
<rect x="15.10" y="326.69" width="15.40" height="25.43" fill="#D7EF9B"/>
<rect x="30.19" y="326.69" width="15.40" height="25.43" fill="#D7EF9B"/>
<rect x="45.29" y="326.69" width="15.40" height="25.43" fill="#D7EF9B"/>
<rect x="60.38" y="326.69" width="15.40" height="25.43" fill="#BFE5A0"/>
<rect x="75.48" y="326.69" width="15.40" height="25.43" fill="#EAF79F"/>
<rect x="90.58" y="326.69" width="15.40" height="25.43" fill="#D7EF9B"/>
<rect x="105.67" y="326.69" width="15.40" height="25.43" fill="#D7EF9B"/>
<rect x="120.77" y="326.69" width="15.40" height="25.43" fill="#D7EF9B"/>
<rect x="135.86" y="326.69" width="15.40" height="25.43" fill="#EAF79F"/>
<rect x="150.96" y="326.69" width="15.40" height="25.43" fill="#EAF79F"/>
<rect x="166.06" y="326.69" width="15.40" height="25.43" fill="#F5FBAF"/>
<rect x="181.15" y="326.69" width="15.40" height="25.43" fill="#EAF79F"/>
<rect x="196.25" y="326.69" width="15.40" height="25.43" fill="#FFFFBF"/>
<rect x="211.34" y="326.69" width="15.40" height="25.43" fill="#EAF79F"/>
<rect x="226.44" y="326.69" width="15.40" height="25.43" fill="#D7EF9B"/>
<rect x="241.54" y="326.69" width="15.40" height="25.43" fill="#D7EF9B"/>
<rect x="256.63" y="326.69" width="15.40" height="25.43" fill="#BFE5A0"/>
<rect x="271.73" y="326.69" width="15.40" height="25.43" fill="#6CC4A5"/>
<rect x="286.82" y="326.69" width="15.40" height="25.43" fill="#A5DBA4"/>
<rect x="301.92" y="326.69" width="15.40" height="25.43" fill="#F5FBAF"/>
<rect x="317.02" y="326.69" width="15.40" height="25.43" fill="#F5FBAF"/>
<rect x="332.11" y="326.69" width="15.40" height="25.43" fill="#FFFFBF"/>
<rect x="347.21" y="326.69" width="15.40" height="25.43" fill="#EAF79F"/>
<rect x="362.30" y="326.69" width="15.40" height="25.43" fill="#D7EF9B"/>
<rect x="377.40" y="326.69" width="15.40" height="25.43" fill="#FFFFBF"/>
<rect x="0.00" y="351.82" width="15.40" height="25.43" fill="#EAF79F"/>
<rect x="15.10" y="351.82" width="15.40" height="25.43" fill="#EAF79F"/>
<rect x="30.19" y="351.82" width="15.40" height="25.43" fill="#EAF79F"/>
<rect x="45.29" y="351.82" width="15.40" height="25.43" fill="#EAF79F"/>
<rect x="60.38" y="351.82" width="15.40" height="25.43" fill="#D7EF9B"/>
<rect x="75.48" y="351.82" width="15.40" height="25.43" fill="#EAF79F"/>
<rect x="90.58" y="351.82" width="15.40" height="25.43" fill="#EAF79F"/>
<rect x="105.67" y="351.82" width="15.40" height="25.43" fill="#EAF79F"/>
<rect x="120.77" y="351.82" width="15.40" height="25.43" fill="#EAF79F"/>
<rect x="135.86" y="351.82" width="15.40" height="25.43" fill="#EAF79F"/>
<rect x="150.96" y="351.82" width="15.40" height="25.43" fill="#EAF79F"/>
<rect x="166.06" y="351.82" width="15.40" height="25.43" fill="#F5FBAF"/>
<rect x="181.15" y="351.82" width="15.40" height="25.43" fill="#F5FBAF"/>
<rect x="196.25" y="351.82" width="15.40" height="25.43" fill="#FFFFBF"/>
<rect x="211.34" y="351.82" width="15.40" height="25.43" fill="#F5FBAF"/>
<rect x="226.44" y="351.82" width="15.40" height="25.43" fill="#EAF79F"/>
<rect x="241.54" y="351.82" width="15.40" height="25.43" fill="#EAF79F"/>
<rect x="256.63" y="351.82" width="15.40" height="25.43" fill="#EAF79F"/>
<rect x="271.73" y="351.82" width="15.40" height="25.43" fill="#A5DBA4"/>
<rect x="286.82" y="351.82" width="15.40" height="25.43" fill="#BFE5A0"/>
<rect x="301.92" y="351.82" width="15.40" height="25.43" fill="#F5FBAF"/>
<rect x="317.02" y="351.82" width="15.40" height="25.43" fill="#F5FBAF"/>
<rect x="332.11" y="351.82" width="15.40" height="25.43" fill="#F5FBAF"/>
<rect x="347.21" y="351.82" width="15.40" height="25.43" fill="#EAF79F"/>
<rect x="362.30" y="351.82" width="15.40" height="25.43" fill="#D7EF9B"/>
<rect x="377.40" y="351.82" width="15.40" height="25.43" fill="#F5FBAF"/>
<rect x="0.00" y="376.95" width="15.40" height="25.43" fill="#EAF79F"/>
<rect x="15.10" y="376.95" width="15.40" height="25.43" fill="#EAF79F"/>
<rect x="30.19" y="376.95" width="15.40" height="25.43" fill="#EAF79F"/>
<rect x="45.29" y="376.95" width="15.40" height="25.43" fill="#EAF79F"/>
<rect x="60.38" y="376.95" width="15.40" height="25.43" fill="#D7EF9B"/>
<rect x="75.48" y="376.95" width="15.40" height="25.43" fill="#F5FBAF"/>
<rect x="90.58" y="376.95" width="15.40" height="25.43" fill="#EAF79F"/>
<rect x="105.67" y="376.95" width="15.40" height="25.43" fill="#EAF79F"/>
<rect x="120.77" y="376.95" width="15.40" height="25.43" fill="#EAF79F"/>
<rect x="135.86" y="376.95" width="15.40" height="25.43" fill="#EAF79F"/>
<rect x="150.96" y="376.95" width="15.40" height="25.43" fill="#EAF79F"/>
<rect x="166.06" y="376.95" width="15.40" height="25.43" fill="#F5FBAF"/>
<rect x="181.15" y="376.95" width="15.40" height="25.43" fill="#F5FBAF"/>
<rect x="196.25" y="376.95" width="15.40" height="25.43" fill="#FFFFBF"/>
<rect x="211.34" y="376.95" width="15.40" height="25.43" fill="#F5FBAF"/>
<rect x="226.44" y="376.95" width="15.40" height="25.43" fill="#EAF79F"/>
<rect x="241.54" y="376.95" width="15.40" height="25.43" fill="#EAF79F"/>
<rect x="256.63" y="376.95" width="15.40" height="25.43" fill="#EAF79F"/>
<rect x="271.73" y="376.95" width="15.40" height="25.43" fill="#BFE5A0"/>
<rect x="286.82" y="376.95" width="15.40" height="25.43" fill="#D7EF9B"/>
<rect x="301.92" y="376.95" width="15.40" height="25.43" fill="#F5FBAF"/>
<rect x="317.02" y="376.95" width="15.40" height="25.43" fill="#F5FBAF"/>
<rect x="332.11" y="376.95" width="15.40" height="25.43" fill="#F5FBAF"/>
<rect x="347.21" y="376.95" width="15.40" height="25.43" fill="#EAF79F"/>
<rect x="362.30" y="376.95" width="15.40" height="25.43" fill="#EAF79F"/>
<rect x="377.40" y="376.95" width="15.40" height="25.43" fill="#D7EF9B"/>
<rect x="0.00" y="402.08" width="15.40" height="25.43" fill="#FFF2A9"/>
<rect x="15.10" y="402.08" width="15.40" height="25.43" fill="#FFF2A9"/>
<rect x="30.19" y="402.08" width="15.40" height="25.43" fill="#FFFFBF"/>
<rect x="45.29" y="402.08" width="15.40" height="25.43" fill="#F5FBAF"/>
<rect x="60.38" y="402.08" width="15.40" height="25.43" fill="#FFFFBF"/>
<rect x="75.48" y="402.08" width="15.40" height="25.43" fill="#FFF2A9"/>
<rect x="90.58" y="402.08" width="15.40" height="25.43" fill="#FFFFBF"/>
<rect x="105.67" y="402.08" width="15.40" height="25.43" fill="#FFFFBF"/>
<rect x="120.77" y="402.08" width="15.40" height="25.43" fill="#FFFFBF"/>
<rect x="135.86" y="402.08" width="15.40" height="25.43" fill="#FFFFBF"/>
<rect x="150.96" y="402.08" width="15.40" height="25.43" fill="#FFFFBF"/>
<rect x="166.06" y="402.08" width="15.40" height="25.43" fill="#FFFFBF"/>
<rect x="181.15" y="402.08" width="15.40" height="25.43" fill="#FEE594"/>
<rect x="196.25" y="402.08" width="15.40" height="25.43" fill="#FFFFBF"/>
<rect x="211.34" y="402.08" width="15.40" height="25.43" fill="#FFFFBF"/>
<rect x="226.44" y="402.08" width="15.40" height="25.43" fill="#F5FBAF"/>
<rect x="241.54" y="402.08" width="15.40" height="25.43" fill="#F5FBAF"/>
<rect x="256.63" y="402.08" width="15.40" height="25.43" fill="#F5FBAF"/>
<rect x="271.73" y="402.08" width="15.40" height="25.43" fill="#FEE594"/>
<rect x="286.82" y="402.08" width="15.40" height="25.43" fill="#FFF2A9"/>
<rect x="301.92" y="402.08" width="15.40" height="25.43" fill="#FFFFBF"/>
<rect x="317.02" y="402.08" width="15.40" height="25.43" fill="#FFFFBF"/>
<rect x="332.11" y="402.08" width="15.40" height="25.43" fill="#F5FBAF"/>
<rect x="347.21" y="402.08" width="15.40" height="25.43" fill="#FFFFBF"/>
<rect x="362.30" y="402.08" width="15.40" height="25.43" fill="#FEE594"/>
<rect x="377.40" y="402.08" width="15.40" height="25.43" fill="#5E4FA2"/>
<rect x="0.00" y="427.21" width="15.40" height="25.43" fill="#F88E52"/>
<rect x="15.10" y="427.21" width="15.40" height="25.43" fill="#F88E52"/>
<rect x="30.19" y="427.21" width="15.40" height="25.43" fill="#F88E52"/>
<rect x="45.29" y="427.21" width="15.40" height="25.43" fill="#F88E52"/>
<rect x="60.38" y="427.21" width="15.40" height="25.43" fill="#FCA95E"/>
<rect x="75.48" y="427.21" width="15.40" height="25.43" fill="#FDBF6F"/>
<rect x="90.58" y="427.21" width="15.40" height="25.43" fill="#FDBF6F"/>
<rect x="105.67" y="427.21" width="15.40" height="25.43" fill="#FCA95E"/>
<rect x="120.77" y="427.21" width="15.40" height="25.43" fill="#FDBF6F"/>
<rect x="135.86" y="427.21" width="15.40" height="25.43" fill="#F88E52"/>
<rect x="150.96" y="427.21" width="15.40" height="25.43" fill="#FCA95E"/>
<rect x="166.06" y="427.21" width="15.40" height="25.43" fill="#F57245"/>
<rect x="181.15" y="427.21" width="15.40" height="25.43" fill="#FDBF6F"/>
<rect x="196.25" y="427.21" width="15.40" height="25.43" fill="#FDBF6F"/>
<rect x="211.34" y="427.21" width="15.40" height="25.43" fill="#FEE594"/>
<rect x="226.44" y="427.21" width="15.40" height="25.43" fill="#FEE594"/>
<rect x="241.54" y="427.21" width="15.40" height="25.43" fill="#FFF2A9"/>
<rect x="256.63" y="427.21" width="15.40" height="25.43" fill="#F5FBAF"/>
<rect x="271.73" y="427.21" width="15.40" height="25.43" fill="#FED480"/>
<rect x="286.82" y="427.21" width="15.40" height="25.43" fill="#FEE594"/>
<rect x="301.92" y="427.21" width="15.40" height="25.43" fill="#CC344D"/>
<rect x="317.02" y="427.21" width="15.40" height="25.43" fill="#DD4A4C"/>
<rect x="332.11" y="427.21" width="15.40" height="25.43" fill="#DD4A4C"/>
<rect x="347.21" y="427.21" width="15.40" height="25.43" fill="#9E0142"/>
<rect x="362.30" y="427.21" width="15.40" height="25.43" fill="#DD4A4C"/>
<rect x="377.40" y="427.21" width="15.40" height="25.43" fill="#FFFFBF"/>
</svg>
<path d="M639.05,148.60V147.60H654.14V148.60 M646.60,147.60V146.00H669.24V148.60 M657.92,146.00V141.50H684.34V148.60 M671.13,141.50V140.00H699.43V148.60 M714.53,148.60V145.50H729.62V148.60 M722.08,145.50V144.50H744.72V148.60 M733.40,144.50V141.50H759.82V148.60 M685.28,140.00V133.50H746.61V141.50 M774.91,148.60V144.50H790.01V148.60 M782.46,144.50V138.80H805.10V148.60 M715.94,133.50V132.50H793.78V138.80 M820.20,148.60V136.80H835.30V148.60 M865.49,148.60V143.00H880.58V148.60 M850.39,148.60V139.80H873.04V143.00 M861.71,139.80V133.50H895.68V148.60 M827.75,136.80V121.30H878.70V133.50 M754.86,132.50V116.00H853.22V121.30 M910.78,148.60V137.00H925.87V148.60 M804.04,116.00V107.30H918.32V137.00 M940.97,148.60V143.30H956.06V148.60 M948.52,143.30V141.00H971.16V148.60 M986.26,148.60V134.20H1001.35V148.60 M959.84,141.00V127.90H993.80V134.20 M861.18,107.30V95.50H976.82V127.90 M919.00,95.50V71.40H1016.45V148.60" fill="none" stroke="#000" stroke-width="0.95"/>
<path d="M627.00,189.19H616.70V214.32H627.00 M627.00,239.45H611.00V264.58H627.00 M616.70,201.76H600.50V252.02H611.00 M627.00,164.06H590.20V226.89H600.50 M627.00,289.72H601.60V314.85H627.00 M601.60,302.28H577.40V339.98H627.00 M590.20,195.48H570.10V321.13H577.40 M627.00,365.11H617.00V390.24H627.00 M617.00,377.67H601.00V415.37H627.00 M627.00,440.50H601.70V465.62H627.00 M601.00,396.52H590.30V453.06H601.70 M627.00,515.88H607.60V541.01H627.00 M627.00,490.75H587.50V528.45H607.60 M590.30,424.79H545.50V509.60H587.50 M570.10,258.30H540.60V467.20H545.50 M627.00,566.14H501.50V591.27H627.00 M540.60,362.75H494.50V578.71H501.50" fill="none" stroke="#000" stroke-width="0.95"/>
<text x="1030.6" y="167.16" font-size="9.9" fill="#000" stroke="#000">LTR_ERVL.MaLR_exproj</text>
<text x="1030.6" y="192.29" font-size="9.9" fill="#000" stroke="#000">LTR_ERVL_exproj</text>
<text x="1030.6" y="217.42" font-size="9.9" fill="#000" stroke="#000">LTR_ERVL.MaLR_promoter5kb</text>
<text x="1030.6" y="242.55" font-size="9.9" fill="#000" stroke="#000">LTR_ERVL_promoter5kb</text>
<text x="1030.6" y="267.69" font-size="9.9" fill="#000" stroke="#000">DNA_TcMar.Tigger_promoter5kb</text>
<text x="1030.6" y="292.82" font-size="9.9" fill="#000" stroke="#000">LINE_L1_promoter5kb</text>
<text x="1030.6" y="317.95" font-size="9.9" fill="#000" stroke="#000">LTR_ERV1_promoter5kb</text>
<text x="1030.6" y="343.08" font-size="9.9" fill="#000" stroke="#000">LTR_ERV1_exproj</text>
<text x="1030.6" y="368.21" font-size="9.9" fill="#000" stroke="#000">SINE_MIR_exproj</text>
<text x="1030.6" y="393.34" font-size="9.9" fill="#000" stroke="#000">LINE_L2_exproj</text>
<text x="1030.6" y="418.47" font-size="9.9" fill="#000" stroke="#000">DNA_hAT.Charlie_exproj</text>
<text x="1030.6" y="443.60" font-size="9.9" fill="#000" stroke="#000">LINE_L1_exproj</text>
<text x="1030.6" y="468.73" font-size="9.9" fill="#000" stroke="#000">DNA_TcMar.Tigger_exproj</text>
<text x="1030.6" y="493.86" font-size="9.9" fill="#000" stroke="#000">DNA_hAT.Charlie_promoter5kb</text>
<text x="1030.6" y="518.99" font-size="9.9" fill="#000" stroke="#000">LINE_L2_promoter5kb</text>
<text x="1030.6" y="544.12" font-size="9.9" fill="#000" stroke="#000">SINE_MIR_promoter5kb</text>
<text x="1030.6" y="569.25" font-size="9.9" fill="#000" stroke="#000">SINEC_Cf_exproj</text>
<text x="1030.6" y="594.38" font-size="9.9" fill="#000" stroke="#000">SINEC_Cf_promoter5kb</text>
<text transform="translate(643.45,610.2) rotate(-90)" font-size="10.1" fill="#000" stroke="#000" text-anchor="end">OLFACTORY_BULB</text>
<text transform="translate(658.54,610.2) rotate(-90)" font-size="10.1" fill="#000" stroke="#000" text-anchor="end">RETINA</text>
<text transform="translate(673.64,610.2) rotate(-90)" font-size="10.1" fill="#000" stroke="#000" text-anchor="end">LUNG</text>
<text transform="translate(688.74,610.2) rotate(-90)" font-size="10.1" fill="#000" stroke="#000" text-anchor="end">SKIN</text>
<text transform="translate(703.83,610.2) rotate(-90)" font-size="10.1" fill="#000" stroke="#000" text-anchor="end">SPLEEN</text>
<text transform="translate(718.93,610.2) rotate(-90)" font-size="8.6" fill="#000" stroke="#000" text-anchor="end">ADRENALGLAND</text>
<text transform="translate(734.02,610.2) rotate(-90)" font-size="10.1" fill="#000" stroke="#000" text-anchor="end">NASAL_PLANUM</text>
<text transform="translate(749.12,610.2) rotate(-90)" font-size="10.1" fill="#000" stroke="#000" text-anchor="end">GUT_COLON</text>
<text transform="translate(764.22,610.2) rotate(-90)" font-size="10.1" fill="#000" stroke="#000" text-anchor="end">BRAIN</text>
<text transform="translate(779.31,610.2) rotate(-90)" font-size="10.1" fill="#000" stroke="#000" text-anchor="end">PANCREAS</text>
<text transform="translate(794.41,610.2) rotate(-90)" font-size="10.1" fill="#000" stroke="#000" text-anchor="end">MUSCLE</text>
<text transform="translate(809.50,610.2) rotate(-90)" font-size="10.1" fill="#000" stroke="#000" text-anchor="end">MUCOSAL</text>
<text transform="translate(824.60,610.2) rotate(-90)" font-size="10.1" fill="#000" stroke="#000" text-anchor="end">KIDNEY</text>
<text transform="translate(839.70,610.2) rotate(-90)" font-size="10.1" fill="#000" stroke="#000" text-anchor="end">HEART</text>
<text transform="translate(854.79,610.2) rotate(-90)" font-size="10.1" fill="#000" stroke="#000" text-anchor="end">OVARY</text>
<text transform="translate(869.89,610.2) rotate(-90)" font-size="10.1" fill="#000" stroke="#000" text-anchor="end">MAMMARY_GLAND</text>
<text transform="translate(884.98,610.2) rotate(-90)" font-size="10.1" fill="#000" stroke="#000" text-anchor="end">HAIR_FOLLICLE</text>
<text transform="translate(900.08,610.2) rotate(-90)" font-size="10.1" fill="#000" stroke="#000" text-anchor="end">LIVER</text>
<text transform="translate(915.18,610.2) rotate(-90)" font-size="10.1" fill="#000" stroke="#000" text-anchor="end">CEREBELLUM</text>
<text transform="translate(930.27,610.2) rotate(-90)" font-size="10.1" fill="#000" stroke="#000" text-anchor="end">CORTEX</text>
<text transform="translate(945.37,610.2) rotate(-90)" font-size="10.1" fill="#000" stroke="#000" text-anchor="end">BLOOD</text>
<text transform="translate(960.46,610.2) rotate(-90)" font-size="8.8" fill="#000" stroke="#000" text-anchor="end">KERATINOCYTE</text>
<text transform="translate(975.56,610.2) rotate(-90)" font-size="10.1" fill="#000" stroke="#000" text-anchor="end">JEJUNUM</text>
<text transform="translate(990.66,610.2) rotate(-90)" font-size="10.1" fill="#000" stroke="#000" text-anchor="end">THYMUS</text>
<text transform="translate(1005.75,610.2) rotate(-90)" font-size="10.1" fill="#000" stroke="#000" text-anchor="end">SPINAL_CORD</text>
<text transform="translate(1020.85,610.2) rotate(-90)" font-size="10.1" fill="#000" stroke="#000" text-anchor="end">TESTIS</text>
<text x="832" y="719.5" font-size="13.2" fill="#000" stroke="#000" text-anchor="middle">Tissue</text>
<text transform="translate(1197.3,377.2) rotate(-90)" font-size="13.2" fill="#000" stroke="#000" text-anchor="middle">TE family</text>
</svg></body></html>
